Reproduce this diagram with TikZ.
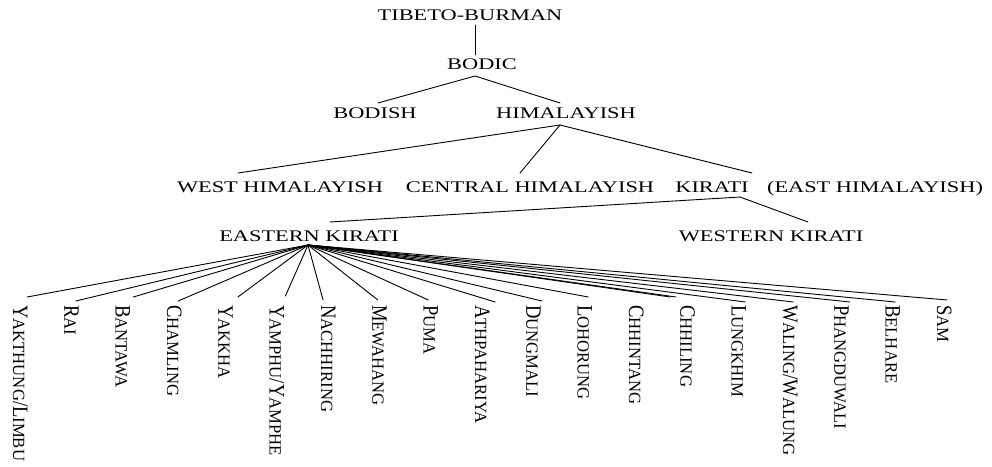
\documentclass[tikz,border=0pt]{standalone}
\usepackage{fontspec}
\setmainfont{Liberation Serif}
\usepackage{graphicx}
% widened caps for the upper tree labels
\newcommand\hs[1]{\scalebox{1.38}[1]{#1}}
% hand-made small caps: full-size initial, smaller (slightly widened) rest
\newcommand\lsc[2]{{\fontsize{18.6}{20}\selectfont #1}{\fontsize{14.5}{16}\selectfont\scalebox{1.15}[1]{#2}}}
\newcommand\lsl{{\fontsize{18.6}{20}\selectfont /}}
\newcommand\leaftext[1]{\scalebox{1}[1.18]{#1}}
\usetikzlibrary{calc}
\tikzset{
  lab/.style={inner sep=0pt, anchor=base, font=\fontsize{16.2}{18}\selectfont},
  leaf/.style={inner sep=0pt, anchor=base west, rotate=-90},
  edge/.style={line width=0.9pt, line cap=round}
}
\begin{document}
\begin{tikzpicture}[x=1pt, y=-1pt]
\path[use as bounding box] (0,0) rectangle (992,466);

% upper levels
\node[lab] (tb)      at (470,20.4)  {\hs{TIBETO-BURMAN}};
\node[lab] (bodic)   at (482,69)    {\hs{BODIC}};
\node[lab] (bodish)  at (375,118.5) {\hs{BODISH}};
\node[lab] (himal)   at (566,118.5) {\hs{HIMALAYISH}};
\node[lab] (westh)   at (280,192.5) {\hs{WEST HIMALAYISH}};
\node[lab] (centh)   at (530,192.5) {\hs{CENTRAL HIMALAYISH}};
\node[lab] (kirati)  at (712,192.5) {\hs{KIRATI}};
\node[lab] (easth)   at (875,192.5) {\hs{(EAST HIMALAYISH)}};
\node[lab] (eastk)   at (309,241)   {\hs{EASTERN KIRATI}};
\node[lab] (westk)   at (771,241)   {\hs{WESTERN KIRATI}};

\draw[edge] ([shift={(5,4.6)}]tb.base) -- ([shift={(-7,-14)}]bodic.base);
\coordinate (bodicroot) at ([shift={(-7,7)}]bodic.base);
\draw[edge] ([shift={(3,-15.5)}]bodish.base) -- (bodicroot) -- ([shift={(-6,-15.5)}]himal.base);
\coordinate (himroot) at ([shift={(-6,6.5)}]himal.base);
\draw[edge] (himroot) -- ([shift={(-42,-19.5)}]westh.base);
\draw[edge] (himroot) -- ([shift={(-10,-19.5)}]centh.base);
\draw[edge] (himroot) -- ([shift={(40,-19.5)}]kirati.base);
\coordinate (kirroot) at ([shift={(28,4.5)}]kirati.base);
\draw[edge] ([shift={(21,-19)}]eastk.base) -- (kirroot) -- ([shift={(37,-19)}]westk.base);

% Eastern Kirati languages
\node[leaf] (l1)  at (13.0,305)  {\leaftext{\lsc{Y}{AKTHUNG}\lsl\lsc{L}{IMBU}}};
\node[leaf] (l2)  at (64.3,305)  {\leaftext{\lsc{R}{AI}}};
\node[leaf] (l3)  at (115.7,305) {\leaftext{\lsc{B}{ANTAWA}}};
\node[leaf] (l4)  at (167.0,305) {\leaftext{\lsc{C}{HAMLING}}};
\node[leaf] (l5)  at (218.3,305) {\leaftext{\lsc{Y}{AKKHA}}};
\node[leaf] (l6)  at (269.7,305) {\leaftext{\lsc{Y}{AMPHU}\lsl\lsc{Y}{AMPHE}}};
\node[leaf] (l7)  at (321.0,305) {\leaftext{\lsc{N}{ACHHIRING}}};
\node[leaf] (l8)  at (372.3,305) {\leaftext{\lsc{M}{EWAHANG}}};
\node[leaf] (l9)  at (423.7,305) {\leaftext{\lsc{P}{UMA}}};
\node[leaf] (l10) at (475.0,305) {\leaftext{\lsc{A}{THPAHARIYA}}};
\node[leaf] (l11) at (526.3,305) {\leaftext{\lsc{D}{UNGMALI}}};
\node[leaf] (l12) at (577.7,305) {\leaftext{\lsc{L}{OHORUNG}}};
\node[leaf] (l13) at (629.0,305) {\leaftext{\lsc{C}{HHINTANG}}};
\node[leaf] (l14) at (680.3,305) {\leaftext{\lsc{C}{HHILING}}};
\node[leaf] (l15) at (731.7,305) {\leaftext{\lsc{L}{UNGKHIM}}};
\node[leaf] (l16) at (783.0,305) {\leaftext{\lsc{W}{ALING}\lsl\lsc{W}{ALUNG}}};
\node[leaf] (l17) at (834.3,305) {\leaftext{\lsc{P}{HANGDUWALI}}};
\node[leaf] (l18) at (885.7,305) {\leaftext{\lsc{B}{ELHARE}}};
\node[leaf] (l19) at (937.0,305) {\leaftext{\lsc{S}{AM}}};

\coordinate (fan) at ([shift={(-1,4)}]eastk.base);
\foreach \i/\dx/\dy in {1/-0.5/-8, 2/-3/-4, 3/3/-8, 4/-3.5/-4, 5/5/-8, 6/1/-9,
    7/-12.5/-5, 8/-9/-5, 9/-10/-5, 10/5.5/-3, 11/1/-4, 12/-4/-8, 13/26.5/-8,
    14/-19/-8, 15/-1/-3, 16/-4.5/-3, 17/1/-3, 18/-5/-3, 19/-4.5/-5}
  \draw[edge] (fan) -- ([shift={(\dx,\dy)}]l\i.north west);
\end{tikzpicture}
\end{document}
